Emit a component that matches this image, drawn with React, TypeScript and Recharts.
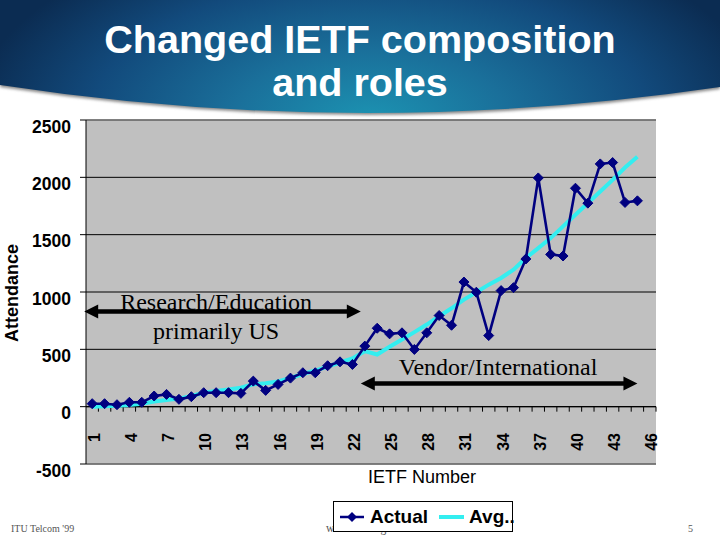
import React from "react";
import { LineChart, Line, XAxis, YAxis, CartesianGrid, ReferenceLine, Legend } from "recharts";

const categories = [1,2,3,4,5,6,7,8,9,10,11,12,13,14,15,16,17,18,19,20,21,22,23,24,25,26,27,28,29,30,31,32,33,34,35,36,37,38,39,40,41,42,43,44,45,46];
const actual = [26,26,17,38,38,93,107,64,87,122,122,122,116,223,142,194,249,296,296,357,391,368,528,684,635,644,499,644,795,710,1087,998,620,1012,1038,1288,1995,1328,1314,1905,1775,2117,2129,1781,1795,null];
const avg = [0,3,8,15,25,45,58,70,93,122,136,150,165,195,205,220,250,285,315,350,385,420,484,455,522,586,650,716,789,858,934,998,1064,1122,1195,1296,1383,1470,1572,1673,1775,1876,1978,2085,2180,null];
const yTicks = [-500,0,500,1000,1500,2000,2500];
const data = categories.map((n, i) => ({ n, Actual: actual[i], Avg: avg[i] }));

const NAVY = "#000080";
const CYAN = "#33EEF0";
const SANS = "'Liberation Sans', Arial, sans-serif";
const SERIF = "'Liberation Serif', 'Times New Roman', serif";

const Diamond = (props: any) => {
  const { cx, cy } = props;
  if (cx == null || cy == null) return null;
  const r = 5;
  return <polygon key={`${cx}`} points={`${cx},${cy - r} ${cx + r},${cy} ${cx},${cy + r} ${cx - r},${cy}`} fill={NAVY} stroke={NAVY} />;
};

const ZeroAxis = (props: any) => {
  const { x1, y1, x2 } = props;
  const step = (x2 - x1) / categories.length;
  return (
    <g>
      <line x1={x1} y1={y1} x2={x2} y2={y1} stroke="#000" strokeWidth={1.2} />
      {categories.map((c, i) => (
        <line key={c} x1={x1 + step * (i + 1)} x2={x1 + step * (i + 1)} y1={y1} y2={y1 + 5} stroke="#000" strokeWidth={1} />
      ))}
    </g>
  );
};

const Arrow = (props: any) => {
  const { x1, y1, x2, y2, startExt = 0, endExt = 0 } = props;
  const a = x1 + startExt;
  const b = x2 + endExt;
  return (
    <g>
      <line x1={a + 8} x2={b - 8} y1={y1} y2={y2} stroke="#000" strokeWidth={4.5} />
      <polygon points={`${a},${y1} ${a + 14},${y1 - 7} ${a + 14},${y1 + 7}`} fill="#000" />
      <polygon points={`${b},${y1} ${b - 14},${y1 - 7} ${b - 14},${y1 + 7}`} fill="#000" />
    </g>
  );
};

const XTick = (props: any) => {
  const { x, y, payload } = props;
  const px = x + 7.5;
  const py = y - 39;
  return (
    <text x={px} y={py} transform={`rotate(-90 ${px} ${py})`} textAnchor="end" fontFamily={SANS} fontWeight="bold" fontSize={16} fill="#000">
      {payload.value}
    </text>
  );
};

const LegendBox = () => (
  <div style={{ boxSizing: "border-box", width: 180, height: 31, border: "1px solid #000", background: "#fff", display: "flex", alignItems: "center", fontFamily: SANS, fontWeight: "bold", fontSize: 19, color: "#000", whiteSpace: "nowrap" }}>
    <svg width={24} height={14} style={{ marginLeft: 6, flex: "none" }}>
      <line x1={0} x2={24} y1={7} y2={7} stroke={NAVY} strokeWidth={2.5} />
      <polygon points="12,2 17,7 12,12 7,7" fill={NAVY} />
    </svg>
    <span style={{ marginLeft: 6 }}>Actual</span>
    <svg width={25} height={14} style={{ marginLeft: 11, flex: "none" }}>
      <line x1={0} x2={25} y1={7} y2={7} stroke={CYAN} strokeWidth={4} />
    </svg>
    <span style={{ marginLeft: 5 }}>Avg..</span>
  </div>
);

const label = { fontFamily: SERIF, fontSize: 24, fill: "#000", position: "center" as const };

export default function App() {
  return (
    <div style={{ position: "absolute", left: 0, top: 0, width: 720, height: 540, background: "#fff", overflow: "hidden" }}>
      <svg width={720} height={540} style={{ position: "absolute", left: 0, top: 0 }}>
        <defs>
          <radialGradient id="band" gradientUnits="userSpaceOnUse" cx={370} cy={120} r={400} gradientTransform="translate(0 60) scale(1 0.5)">
            <stop offset="0" stopColor="#1c93b2" />
            <stop offset="0.35" stopColor="#1a6f9a" />
            <stop offset="0.7" stopColor="#124a7c" />
            <stop offset="1" stopColor="#0b2c52" />
          </radialGradient>
          <filter id="soft"><feGaussianBlur stdDeviation="1.5" /></filter>
        </defs>
        <path d="M0,87 Q360,142 720,89 L720,0 L0,0 Z" fill="#888" filter="url(#soft)" />
        <path d="M0,85 Q360,140 720,87 L720,0 L0,0 Z" fill="url(#band)" />
        <text x={360} y={53} textAnchor="middle" fontFamily={SANS} fontWeight="bold" fontSize={39.5} fill="#fff">Changed IETF composition</text>
        <text x={360} y={96} textAnchor="middle" fontFamily={SANS} fontWeight="bold" fontSize={39.5} fill="#fff">and roles</text>
        <text x={11} y={532} fontFamily={SERIF} fontSize={10} fill="#555">ITU Telcom '99</text>
        <text x={326} y={532} fontFamily={SERIF} fontSize={11.5} fill="#555">www.ietf.org</text>
        <text x={688} y={532} fontFamily={SERIF} fontSize={10} fill="#555">5</text>
      </svg>
      <div style={{ position: "absolute", left: 0, top: 0 }}>
        <LineChart width={720} height={540} data={data} margin={{ top: 120, right: 64, bottom: 0, left: 0 }}>
          <CartesianGrid vertical={false} stroke="#000" fill="#C0C0C0" />
          <XAxis dataKey="n" height={76} interval={2} padding={{ left: 6.2, right: 6.2 }} axisLine={false} tickLine={false} tick={<XTick />}
            label={{ value: "IETF Number", position: "insideTop", offset: 6, dx: 51, fontFamily: SANS, fontSize: 18, fill: "#000" }} />
          <YAxis width={86} domain={[-500, 2500]} ticks={yTicks} interval={0} axisLine={{ stroke: "#000" }} tickLine={{ stroke: "#000" }} tickSize={6} tickMargin={9}
            tick={{ fontFamily: SANS, fontWeight: "bold", fontSize: 17.5, fill: "#000", dy: 6.5 }}
            label={{ value: "Attendance", angle: -90, position: "insideLeft", offset: 0, dx: 12, dy: 50, fontFamily: SANS, fontWeight: "bold", fontSize: 18, fill: "#000" }} />
          <YAxis yAxisId="frame" orientation="right" width={0} domain={[-500, 2500]} tick={false} tickLine={false} axisLine={{ stroke: "#808080", strokeWidth: 1.5 }} />
          <ReferenceLine y={2500} stroke="#808080" strokeWidth={1.5} />
          <ReferenceLine y={-500} stroke="#808080" strokeWidth={1.5} />
          <ReferenceLine y={0} shape={<ZeroAxis />} />
          <Line dataKey="Avg" stroke={CYAN} strokeWidth={4} dot={false} isAnimationActive={false} />
          <Line dataKey="Actual" stroke={NAVY} strokeWidth={2.6} dot={<Diamond />} isAnimationActive={false} />
          <ReferenceLine segment={[{ x: 1, y: 830 }, { x: 23, y: 830 }]} shape={<Arrow startExt={-8} endExt={-4} />} />
          <ReferenceLine segment={[{ x: 23, y: 203 }, { x: 45, y: 203 }]} shape={<Arrow startExt={-4} />} />
          <ReferenceLine segment={[{ x: 1, y: 917 }, { x: 21, y: 917 }]} stroke="none" label={{ ...label, value: "Research/Education" }} />
          <ReferenceLine segment={[{ x: 1, y: 665 }, { x: 21, y: 665 }]} stroke="none" label={{ ...label, value: "primarily US" }} />
          <ReferenceLine segment={[{ x: 25, y: 351 }, { x: 43, y: 351 }]} stroke="none" label={{ ...label, value: "Vendor/International", dx: -3 }} />
          <Legend layout="horizontal" verticalAlign="middle" align="center" content={<LegendBox />} wrapperStyle={{ left: 333, top: 501, width: 180, height: 31, bottom: "auto", right: "auto" }} />
        </LineChart>
      </div>
    </div>
  );
}
